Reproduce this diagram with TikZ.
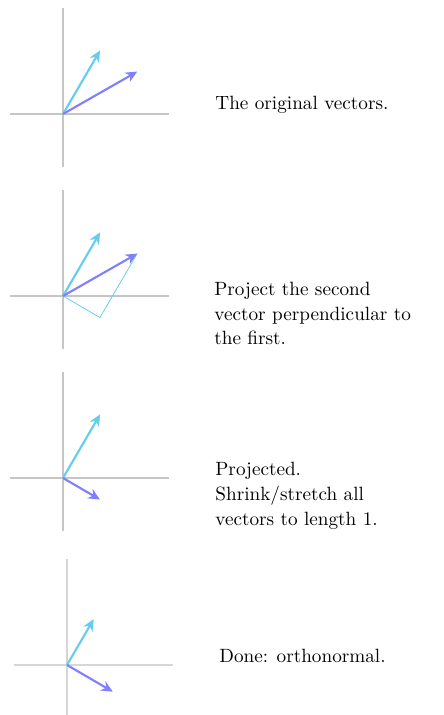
\documentclass[tikz,border=0pt]{standalone}
\usepackage{tikz}
\usetikzlibrary{arrows.meta}

\definecolor{vecone}{RGB}{102,204,238}
\definecolor{vectwo}{RGB}{128,128,255}

\begin{document}
\begin{tikzpicture}[x=0.97cm, y=0.97cm,
  axis/.style={draw=#1, line width=0.6pt},
  axis/.default=gray!45,
  vec/.style={-{Stealth[length=6pt,width=5.5pt]}, line width=1.1pt, draw=#1},
  guide/.style={draw=vecone, line width=0.4pt},
  caption/.style={anchor=base west, align=left, inner sep=0pt, font=\fontsize{10pt}{13pt}\selectfont}
]
  \useasboundingbox (0,0) rectangle (8.377,-13.491);

  % original vectors
  \begin{scope}[shift={(1.189,-2.151)}]
    \draw[axis] (-1,0) -- (2,0);
    \draw[axis] (0,-1) -- (0,2);
    \coordinate (o1) at (0,0);
    \coordinate (a1) at (0.7,1.2);
    \coordinate (b1) at (1.4,0.8);
    \draw[vec=vecone] (o1) -- (a1);
    \draw[vec=vectwo] (o1) -- (b1);
  \end{scope}
  \node[caption] (cap1) at (4.057,-2.075) {The original vectors.};

  % projection
  \begin{scope}[shift={(1.189,-5.585)}]
    \draw[axis] (-1,0) -- (2,0);
    \draw[axis] (0,-1) -- (0,2);
    \coordinate (o2) at (0,0);
    \coordinate (a2) at (0.7,1.2);
    \coordinate (b2) at (1.4,0.8);
    \coordinate (p2) at (0.6965,-0.406);
    \draw[guide] (o2) -- (p2) -- (b2);
    \draw[vec=vecone] (o2) -- (a2);
    \draw[vec=vectwo] (o2) -- (b2);
  \end{scope}
  \node[caption] (cap2) at (4.038,-6.509) {Project the second\\vector perpendicular to\\the first.};

  % projected
  \begin{scope}[shift={(1.189,-9.019)}]
    \draw[axis] (-1,0) -- (2,0);
    \draw[axis] (0,-1) -- (0,2);
    \coordinate (o3) at (0,0);
    \coordinate (a3) at (0.7,1.2);
    \coordinate (b3) at (0.6965,-0.406);
    \draw[vec=vecone] (o3) -- (a3);
    \draw[vec=vectwo] (o3) -- (b3);
  \end{scope}
  \node[caption] (cap3) at (4.057,-9.906) {Projected.\\Shrink/stretch all\\vectors to length 1.};

  % normalised
  \begin{scope}[shift={(1.264,-12.547)}]
    \draw[axis=gray!32] (-1,0) -- (2,0);
    \draw[axis=gray!32] (0,-0.944) -- (0,2);
    \coordinate (o4) at (0,0);
    \coordinate (a4) at (0.504,0.864);
    \coordinate (b4) at (0.864,-0.504);
    \draw[vec=vecone] (o4) -- (a4);
    \draw[vec=vectwo] (o4) -- (b4);
  \end{scope}
  \node[caption] (cap4) at (4.132,-12.509) {Done: orthonormal.};
\end{tikzpicture}
\end{document}
